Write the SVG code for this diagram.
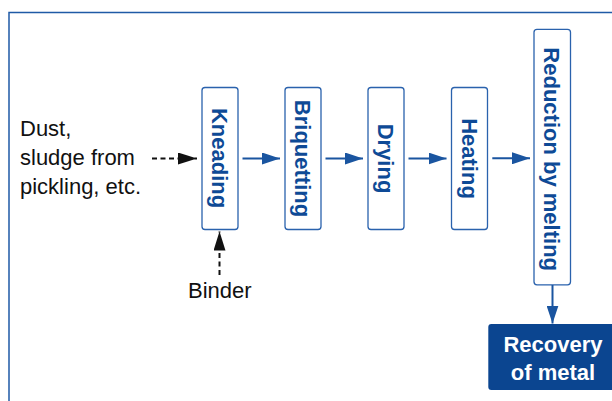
<svg xmlns="http://www.w3.org/2000/svg" width="612" height="401" viewBox="0 0 612 401">
<defs>
<style>
.frame{fill:none;stroke:#1f5aa6;stroke-width:1.5}
.box{fill:#fff;stroke:#2a62ad;stroke-width:1.3}
.vt{font-family:"Liberation Sans",Arial,sans-serif;font-weight:bold;font-size:22px;fill:#0e4a96;text-anchor:middle}
.lbl{font-family:"Liberation Sans",Arial,sans-serif;font-size:22px;fill:#111}
.flow{stroke:#1a55a0;stroke-width:2;fill:none}
.dash{stroke:#111;stroke-width:2;fill:none;stroke-dasharray:5 3.5}
.wt{font-family:"Liberation Sans",Arial,sans-serif;font-weight:bold;font-size:22px;fill:#fff;text-anchor:middle}
</style>
<marker id="ab" markerWidth="18" markerHeight="12" refX="18" refY="6" orient="auto" markerUnits="userSpaceOnUse"><path d="M0,0 L18,6 L0,12 Z" fill="#1a55a0"/></marker>
<marker id="ak" markerWidth="19" markerHeight="12" refX="19" refY="6" orient="auto" markerUnits="userSpaceOnUse"><path d="M0,0 L19,6 L0,12 Z" fill="#111"/></marker>
</defs>
<rect class="frame" x="9" y="12.5" width="620" height="400"/>
<g id="input">
<text class="lbl" x="20" y="136">Dust,</text>
<text class="lbl" x="20" y="165">sludge from</text>
<text class="lbl" x="20" y="193.5">pickling, etc.</text>
</g>
<g id="binder"><text class="lbl" x="188" y="297.5">Binder</text></g>
<g id="kneading"><rect class="box" x="202" y="87.5" width="36" height="142" rx="3"/><text class="vt" transform="translate(220,158) rotate(90)" y="7.9">Kneading</text></g>
<g id="briquetting"><rect class="box" x="285" y="87.5" width="36" height="142" rx="3"/><text class="vt" transform="translate(303,158.5) rotate(90)" y="7.9">Briquetting</text></g>
<g id="drying"><rect class="box" x="368" y="87.5" width="36" height="142" rx="3"/><text class="vt" transform="translate(386,158.5) rotate(90)" y="7.9">Drying</text></g>
<g id="heating"><rect class="box" x="451.5" y="87.5" width="36" height="142" rx="3"/><text class="vt" transform="translate(469.5,158.5) rotate(90)" y="7.9">Heating</text></g>
<g id="reduction"><rect class="box" x="534" y="29.3" width="36.5" height="255.5" rx="3"/><text class="vt" transform="translate(552.3,159.2) rotate(90)" y="7.9">Reduction by melting</text></g>
<g id="recovery"><rect x="488.3" y="324" width="132" height="66" rx="3" fill="#0b4590"/><text class="wt" x="553" y="352">Recovery</text><text class="wt" x="553" y="379.5">of metal</text></g>
<g id="connectors">
<line class="dash" x1="152" y1="158.5" x2="197" y2="158.5" marker-end="url(#ak)"/>
<line class="dash" x1="219.5" y1="275" x2="219.5" y2="231.5" marker-end="url(#ak)"/>
<line class="flow" x1="242.5" y1="158.5" x2="280" y2="158.5" marker-end="url(#ab)"/>
<line class="flow" x1="325.5" y1="158.5" x2="363" y2="158.5" marker-end="url(#ab)"/>
<line class="flow" x1="408.5" y1="158.5" x2="446.5" y2="158.5" marker-end="url(#ab)"/>
<line class="flow" x1="492.3" y1="158.3" x2="530" y2="158.3" marker-end="url(#ab)"/>
<line class="flow" x1="552.5" y1="285" x2="552.5" y2="323.5" marker-end="url(#ab)"/>
</g>
</svg>
